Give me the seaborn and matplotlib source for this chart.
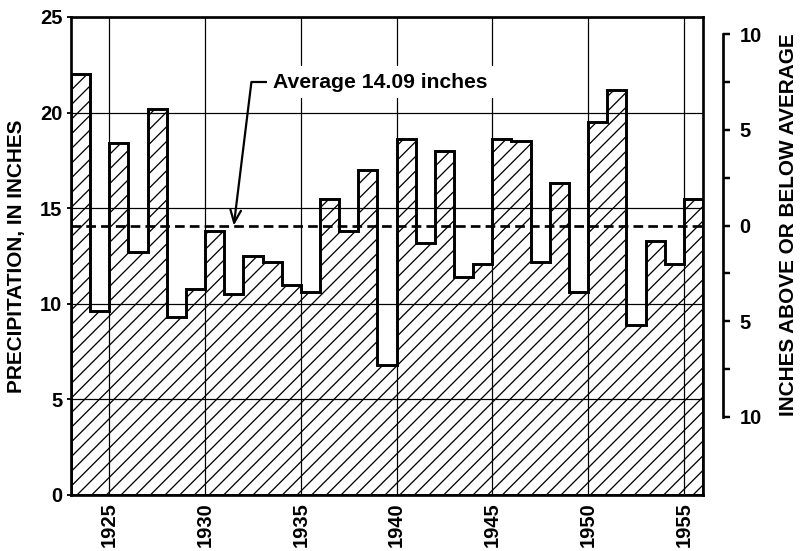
import numpy as np
import pandas as pd
import matplotlib
matplotlib.use("Agg")
import matplotlib.pyplot as plt
import seaborn as sns

# ---------------- data ----------------
years = list(range(1923, 1956))
precip = [22.0, 9.6, 18.4, 12.7, 20.2, 9.3, 10.8, 13.8, 10.5, 12.5, 12.2,
          11.0, 10.6, 15.5, 13.8, 17.0, 6.8, 18.6, 13.2, 18.0, 11.4, 12.1,
          18.6, 18.5, 12.2, 16.3, 10.6, 19.5, 21.2, 8.9, 13.3, 12.1, 15.5]
average = 14.09
y_ticks = [0, 5, 10, 15, 20, 25]
x_ticks = [1925, 1930, 1935, 1940, 1945, 1950, 1955]
dev_ticks = [10, 5, 0, -5, -10]
dev_labels = ["10", "5", "0", "5", "10"]
dev_minor = [7.5, 2.5, -2.5, -7.5]
annot_text = "Average 14.09 inches"
left_label = "PRECIPITATION, IN INCHES"
right_label = "INCHES ABOVE OR BELOW AVERAGE"

# ---------------- style ----------------
sns.set_style("white")
plt.rcParams["font.family"] = ["Liberation Sans", "DejaVu Sans"]
plt.rcParams["font.weight"] = "bold"
plt.rcParams["text.color"] = "black"
plt.rcParams["axes.labelcolor"] = "black"
plt.rcParams["hatch.linewidth"] = 1.05
plt.rcParams["hatch.color"] = "black"

DPI = 88
W, H = 804, 551
fig = plt.figure(figsize=(W / DPI, H / DPI), dpi=DPI)
ax = fig.add_axes([71 / W, 1 - 495 / H, 632 / W, 478 / H])

df = pd.DataFrame({"year": years, "precip": precip})
sns.histplot(data=df, x="year", weights="precip",
             binwidth=1, binrange=(years[0], years[-1] + 1),
             element="step", fill=True, ax=ax)
poly = ax.collections[0]
poly.set_facecolor("none")
poly.set_edgecolor("black")
poly.set_hatch("//")
poly.set_linewidth(2.4)
poly.set_joinstyle("miter")
poly.set_zorder(3)
poly.set_alpha(1)

ax.set_xlim(years[0], years[-1] + 1)
ax.set_ylim(0, 25)
ax.set_xticks(x_ticks)
ax.set_xticklabels([str(t) for t in x_ticks], rotation=90)
ax.set_yticks(y_ticks)
ax.set_yticklabels([str(t) for t in y_ticks])
ax.grid(True, color="black", lw=1.0)
ax.set_axisbelow(True)
ax.set_xlabel("")
ax.set_ylabel("")
for s in ax.spines.values():
    s.set_color("black")
    s.set_linewidth(2.2)
    s.set_visible(True)
ax.tick_params(axis="y", length=3, width=1.5, pad=4, labelsize=16.5,
               colors="black", left=True)
ax.tick_params(axis="x", length=0, pad=6, labelsize=16.5, colors="black")

ax.axhline(average, color="black", lw=2.2, ls=(0, (3.6, 1.9)), zorder=4)

ax.annotate(annot_text, xy=(1931.5, average), xytext=(1933.55, 21.6),
            ha="left", va="center", fontsize=17.3, zorder=6, color="black",
            bbox=dict(boxstyle="square,pad=0.3", fc="white", ec="none"),
            arrowprops=dict(arrowstyle="->,head_length=0.6,head_width=0.25",
                            color="black", lw=1.8,
                            connectionstyle="angle,angleA=0,angleB=83,rad=0",
                            relpos=(0, 0.5), shrinkA=0, shrinkB=0))

# right-hand deviation axis
ax2 = ax.twinx()
ax2.set_ylim(0, 25)
ax2.set_yticks([average + d for d in dev_ticks])
ax2.set_yticklabels(dev_labels)
ax2.set_yticks([average + d for d in dev_minor], minor=True)
for s in ["left", "top", "bottom"]:
    ax2.spines[s].set_visible(False)
ax2.spines["right"].set_visible(True)
ax2.spines["right"].set_color("black")
ax2.spines["right"].set_position(("outward", 20 * 72 / DPI))
ax2.spines["right"].set_bounds(average - 10, average + 10)
ax2.spines["right"].set_linewidth(2.2)
ax2.tick_params(axis="y", which="both", direction="out", length=5.5,
                width=2, pad=8, labelsize=16.5, colors="black", right=True)
ax2.grid(False)

fig.text(17 / W, 1 - 256 / H, left_label, rotation=90, ha="center",
         va="center", fontsize=17, color="black")
fig.text(788 / W, 1 - 225 / H, right_label, rotation=90, ha="center",
         va="center", fontsize=17, color="black")

fig.savefig("out.png", dpi=DPI)
